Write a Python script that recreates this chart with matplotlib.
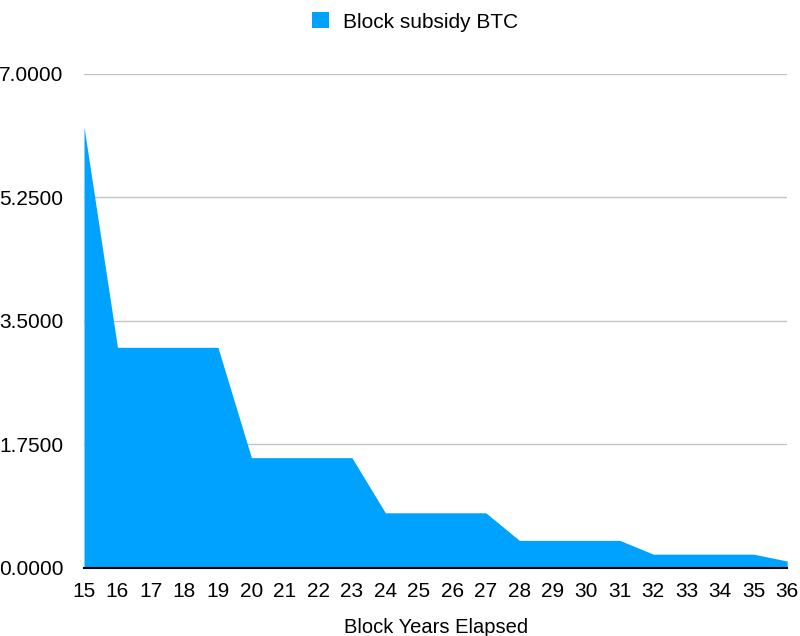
import matplotlib
matplotlib.use("Agg")
import matplotlib.pyplot as plt
from matplotlib.ticker import FormatStrFormatter

years = list(range(15, 37))
subsidy = [6.25, 3.125, 3.125, 3.125, 3.125,
           1.5625, 1.5625, 1.5625, 1.5625,
           0.78125, 0.78125, 0.78125, 0.78125,
           0.390625, 0.390625, 0.390625, 0.390625,
           0.1953125, 0.1953125, 0.1953125, 0.1953125,
           0.09765625]
y_ticks = [0, 1.75, 3.5, 5.25, 7.0]
series_name = "Block subsidy BTC"
x_label = "Block Years Elapsed"
color = "#00a2ff"

plt.rcParams['font.family'] = ['Liberation Sans', 'DejaVu Sans']

fig = plt.figure(figsize=(8, 6.36), dpi=100)
ax = fig.add_axes([0.105, 0.107, 0.879, 0.777])
ax.fill_between(years, subsidy, 0, color=color, linewidth=0, label=series_name)
ax.set_xlim(years[0], years[-1])
ax.set_ylim(0, 7.0)
ax.set_yticks(y_ticks)
ax.yaxis.set_major_formatter(FormatStrFormatter('%.4f'))
ax.set_xticks(years)
ax.grid(axis='y', color='#c4c4c4', linewidth=1)
ax.set_axisbelow(True)
for s in ['top', 'right', 'left']:
    ax.spines[s].set_visible(False)
ax.spines['bottom'].set_color('black')
ax.spines['bottom'].set_linewidth(1.5)
ax.spines['bottom'].set_zorder(5)
ax.tick_params(axis='both', length=0, labelsize=15)
ax.tick_params(axis='y', pad=15)
ax.tick_params(axis='x', pad=10)
ax.set_xlabel(x_label, fontsize=14.5, labelpad=12)
fig.legend(loc='upper center', bbox_to_anchor=(0.519, 1.01), frameon=False,
           fontsize=15, handlelength=0.8, handleheight=0.8, handletextpad=0.7)
fig.savefig("out.png", dpi=100)
